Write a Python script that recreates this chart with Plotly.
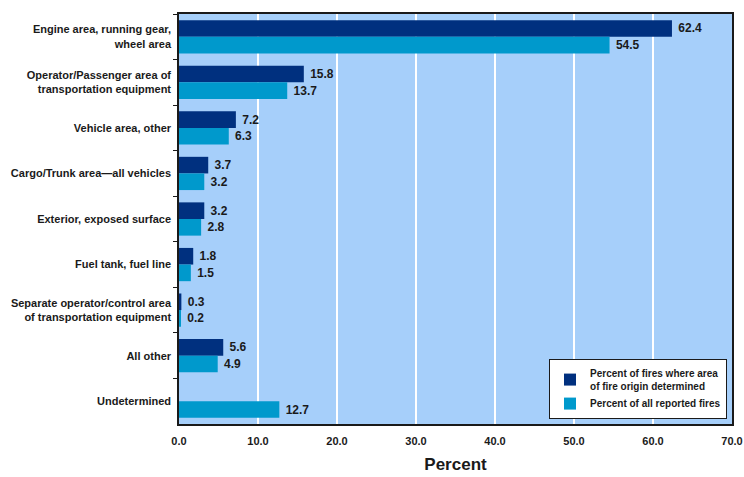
import plotly.graph_objects as go

categories = [
    "Engine area, running gear,<br>wheel area",
    "Operator/Passenger area of<br>transportation equipment",
    "Vehicle area, other",
    "Cargo/Trunk area\u2014all vehicles",
    "Exterior, exposed surface",
    "Fuel tank, fuel line",
    "Separate operator/control area<br>of transportation equipment",
    "All other",
    "Undetermined",
]
determined = [62.4, 15.8, 7.2, 3.7, 3.2, 1.8, 0.3, 5.6, None]
all_reported = [54.5, 13.7, 6.3, 3.2, 2.8, 1.5, 0.2, 4.9, 12.7]
x_ticks = [0, 10, 20, 30, 40, 50, 60, 70]

FONT = "Liberation Sans, Arial, sans-serif"
DARK = "#00307F"
LIGHT = "#0099CC"
BG = "#A6CFFA"

def lbl(vals):
    return [(" %.1f" % v) if v is not None else "" for v in vals]

fig = go.Figure()
fig.add_trace(go.Bar(
    y=categories, x=determined, orientation="h",
    name="Percent of fires where area<br>of fire origin determined",
    marker=dict(color=DARK, line=dict(width=0)),
    text=lbl(determined), textposition="outside",
    textfont=dict(family=FONT, size=12, color="#1a1a1a", weight="bold"),
    cliponaxis=False,
))
fig.add_trace(go.Bar(
    y=categories, x=all_reported, orientation="h",
    name="Percent of all reported fires",
    marker=dict(color=LIGHT, line=dict(width=0)),
    text=lbl(all_reported), textposition="outside",
    textfont=dict(family=FONT, size=12, color="#1a1a1a", weight="bold"),
    cliponaxis=False,
))

fig.update_layout(
    width=744, height=477,
    margin=dict(l=179, r=12, t=14, b=53, autoexpand=False),
    paper_bgcolor="white",
    plot_bgcolor=BG,
    barmode="group",
    bargap=0.27,
    bargroupgap=0,
    font=dict(family=FONT, size=11, color="#1a1a1a"),
    xaxis=dict(
        range=[0, 70], tickvals=x_ticks, tickformat=".1f",
        showgrid=True, gridcolor="white", gridwidth=1.5,
        showline=True, linecolor="#1a1a1a", linewidth=1.5, mirror=True,
        ticks="outside", ticklen=6, tickcolor="rgba(0,0,0,0)", zeroline=False,
        automargin=False,
        tickfont=dict(family=FONT, size=11, color="#1a1a1a", weight="bold"),
        title=dict(text="<b>Percent</b>", font=dict(family=FONT, size=17, color="#1a1a1a"), standoff=12),
    ),
    yaxis=dict(
        autorange="reversed", automargin=False,
        tickson="boundaries", ticks="outside", ticklen=4, tickcolor="#1a1a1a",
        showline=True, linecolor="#1a1a1a", linewidth=1.5, mirror=True,
        showgrid=False,
        tickfont=dict(family=FONT, size=11, color="#1a1a1a", weight="bold"),
        ticklabelstandoff=4,
    ),
    legend=dict(
        x=0.991, y=0.012, xanchor="right", yanchor="bottom",
        bgcolor="white", bordercolor="#1a1a1a", borderwidth=1,
        font=dict(family=FONT, size=10, color="#1a1a1a", weight="bold"),
        tracegroupgap=8, itemsizing="constant",
    ),
    showlegend=True,
)

fig.write_html("out.html")
